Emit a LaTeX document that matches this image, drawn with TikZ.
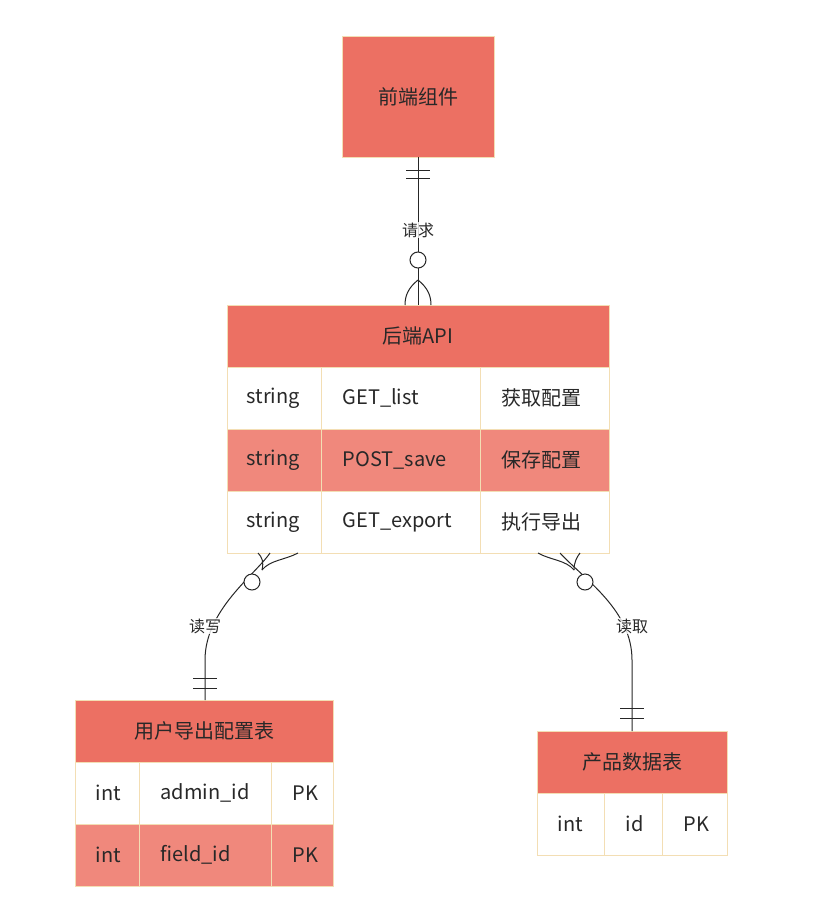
\documentclass[tikz,border=0pt]{standalone}
\usepackage{fontspec}
\setmainfont{Noto Sans CJK SC}
\begin{document}
\begin{tikzpicture}[x=1pt,y=-1pt,
  hdr/.style={draw=bd,fill=hd,line width=1pt},
  cellw/.style={draw=bd,fill=white,line width=1pt},
  cellr/.style={draw=bd,fill=rw,line width=1pt},
  txt/.style={font=\fontsize{20}{22}\selectfont,text=tx},
  lbl/.style={font=\fontsize{16}{18}\selectfont,text=tx,fill=white,fill opacity=0.8,text opacity=1,inner sep=1pt},
  ln/.style={draw=black!85,line width=1pt}]
\definecolor{hd}{RGB}{236,112,99}
\definecolor{rw}{RGB}{240,136,124}
\definecolor{bd}{RGB}{243,222,180}
\definecolor{tx}{RGB}{40,40,40}
\useasboundingbox (0,0) rectangle (812,918);
% front end
\draw[hdr] (342,36) rectangle (494,157);
\node[txt] (fe) at (418,97) {前端组件};
% backend API
\draw[hdr] (227,305) rectangle (609,367);
\node[txt] (api) at (418,336) {后端API};
\foreach \y/\s in {367/cellw,429/cellr,491/cellw}{
  \draw[\s] (227,\y) rectangle (321,\y+62);
  \draw[\s] (321,\y) rectangle (480,\y+62);
  \draw[\s] (480,\y) rectangle (609,\y+62);}
\node[txt,anchor=west] at (243,398) {string};
\node[txt,anchor=west] at (339,398) {GET\_list};
\node[txt,anchor=west] at (498,398) {获取配置};
\node[txt,anchor=west] at (243,460) {string};
\node[txt,anchor=west] at (339,460) {POST\_save};
\node[txt,anchor=west] at (498,460) {保存配置};
\node[txt,anchor=west] at (243,522) {string};
\node[txt,anchor=west] at (339,522) {GET\_export};
\node[txt,anchor=west] at (498,522) {执行导出};
% user table
\draw[hdr] (75,700) rectangle (333,762);
\node[txt] (ut) at (204,731) {用户导出配置表};
\foreach \y/\s in {762/cellw,824/cellr}{
  \draw[\s] (75,\y) rectangle (139,\y+62);
  \draw[\s] (139,\y) rectangle (271,\y+62);
  \draw[\s] (271,\y) rectangle (333,\y+62);}
\node[txt,anchor=west] at (92,793) {int};
\node[txt,anchor=west] at (157,793) {admin\_id};
\node[txt,anchor=west] at (289,793) {PK};
\node[txt,anchor=west] at (92,855) {int};
\node[txt,anchor=west] at (157,855) {field\_id};
\node[txt,anchor=west] at (289,855) {PK};
% product table
\draw[hdr] (537,731) rectangle (727,793);
\node[txt] (pt) at (632,762) {产品数据表};
\draw[cellw] (537,793) rectangle (604,855);
\draw[cellw] (604,793) rectangle (662,855);
\draw[cellw] (662,793) rectangle (727,855);
\node[txt,anchor=west] at (554,824) {int};
\node[txt,anchor=west] at (622,824) {id};
\node[txt,anchor=west] at (680,824) {PK};
% connector 1
\draw[ln] (418,157) -- (418,252);
\draw[ln] (418,268) -- (418,305);
\draw[ln,fill=white] (418,260) circle (8);
\draw[ln] (406,170) -- (430,170) (406,178) -- (430,178);
\draw[ln] (418,280) .. controls (408,288) and (405,296) .. (405,305);
\draw[ln] (418,280) .. controls (428,288) and (431,296) .. (431,305);
\node[lbl] at (418,230) {请求};
% connector 2
\draw[ln] (270,553) .. controls (255,575) and (205,610) .. (205,660) -- (205,700);
\draw[ln,fill=white] (252,582) circle (8);
\draw[ln] (262,570) .. controls (270,560) and (285,560) .. (298,553);
\draw[ln] (262,570) .. controls (264,562) and (262,557) .. (258,553);
\draw[ln] (193,678) -- (217,678) (193,688) -- (217,688);
\node[lbl] at (205,626) {读写};
% connector 3
\draw[ln] (560,553) .. controls (585,580) and (632,610) .. (632,660) -- (632,731);
\draw[ln,fill=white] (585,582) circle (8);
\draw[ln] (574,570) .. controls (566,560) and (550,560) .. (538,553);
\draw[ln] (574,570) .. controls (574,562) and (577,557) .. (580,553);
\draw[ln] (620,708) -- (644,708) (620,718) -- (644,718);
\node[lbl] at (632,626) {读取};
\end{tikzpicture}
\end{document}
